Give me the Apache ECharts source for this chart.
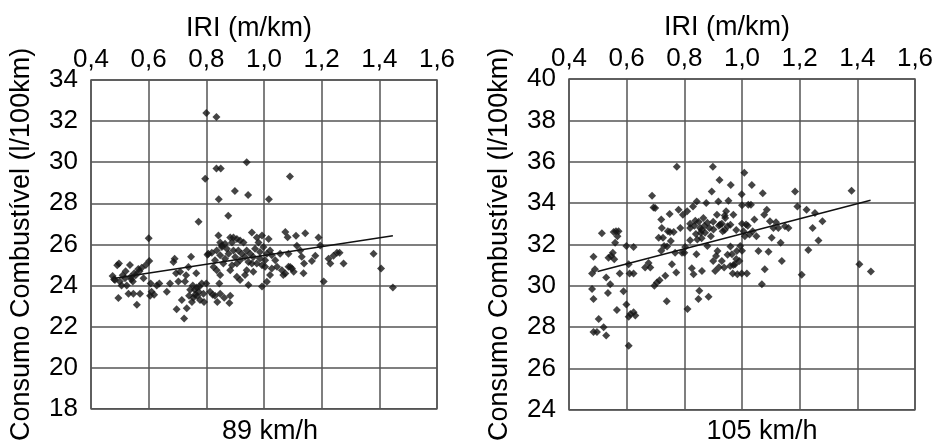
<!DOCTYPE html>
<html>
<head>
<meta charset="utf-8">
<script src="https://cdn.jsdelivr.net/npm/echarts@6/dist/echarts.min.js"></script>
<style>
	html, body { margin: 0; padding: 0; background: #fff; }
	#chart { width: 947px; height: 443px; }
</style>
</head>
<body>
<div id="chart"></div>
<script>
// eixo X (IRI) e eixos Y
var iriTicks = [0.4, 0.6, 0.8, 1.0, 1.2, 1.4, 1.6];
var yRange89 = [18, 34];
var yRange105 = [24, 40];

// 89 km/h: pontos [IRI, consumo]
var pts89 = [
	[0.80,32.4],[0.835,32.2],[0.94,30.0],[0.835,29.7],[0.85,29.7],[0.796,29.2],[1.09,29.3],[0.899,28.6],
	[0.945,28.4],[0.843,28.2],[1.017,28.2],[0.876,27.4],[0.773,27.1],[0.6,26.3],
	[0.475,24.46],[0.483,24.27],[0.491,24.99],[0.497,25.07],[0.495,23.39],[0.48,24.3],[0.51,24.5],[0.518,24.35],
	[0.524,24.0],[0.53,23.6],[0.535,25.0],[0.538,24.43],[0.545,24.2],[0.55,24.6],[0.559,23.07],[0.564,24.8],
	[0.57,23.6],[0.576,24.86],[0.582,24.35],[0.59,25.0],[0.602,25.2],[0.607,24.1],[0.605,23.5],[0.61,23.7],
	[0.619,23.55],[0.628,24.0],[0.637,24.1],[0.547,23.6],[0.506,24.0],[0.5,24.2],[0.52,24.7],[0.54,24.3],
	[0.555,24.5],[0.568,24.7],
	[0.663,23.7],[0.674,24.1],[0.686,25.15],[0.69,25.3],[0.695,24.6],[0.697,22.85],[0.703,24.2],[0.709,24.67],
	[0.715,23.3],[0.723,22.4],[0.726,24.2],[0.732,22.9],[0.738,24.9],[0.744,23.8],[0.747,25.4],[0.753,24.0],
	[0.755,23.4],[0.761,23.55],[0.765,24.6],[0.767,23.9],[0.769,23.5],[0.773,23.7],[0.776,23.95],[0.778,23.3],
	[0.784,24.1],[0.79,23.6],[0.792,23.2],[0.8,24.1],[0.804,25.5],[0.813,23.7],[0.819,25.6],[0.822,23.55],
	[0.83,23.5],[0.836,24.75],[0.838,23.2],[0.845,24.1],[0.848,23.6],[0.854,25.95],[0.862,23.4],[0.88,23.15],
	[0.883,23.5],[0.74,23.5],[0.75,23.2],[0.76,23.8],[0.73,24.5],
	[0.842,26.43],[0.848,26.1],[0.854,25.87],[0.836,25.7],[0.83,25.23],[0.825,24.9],[0.807,25.55],[0.883,26.34],
	[0.889,26.1],[0.894,26.34],[0.906,26.26],[0.917,26.19],[0.929,26.1],[0.871,25.79],[0.877,25.55],[0.865,25.3],
	[0.859,25.07],[0.894,25.71],[0.9,25.39],[0.911,25.71],[0.923,25.55],[0.906,25.07],[0.889,24.99],[0.883,24.75],
	[0.917,25.23],[0.934,25.39],[0.94,25.71],[0.952,25.55],[0.946,25.15],[0.963,25.39],[0.958,26.58],[0.993,26.43],
	[0.969,25.79],[0.981,26.1],[0.986,25.63],[0.998,25.87],[1.016,26.26],[1.01,25.55],[1.021,25.71],[1.027,25.47],
	[0.975,25.07],[0.993,24.99],[1.004,25.23],[1.027,24.83],[1.039,25.23],[1.056,25.55],[1.062,24.75],[1.074,24.59],
	[1.085,24.91],[1.097,24.83],[0.906,24.43],[0.917,24.27],[0.946,24.03],[0.993,23.95],[1.01,24.19],[1.021,24.51],
	[0.963,24.67],[0.94,24.75],[1.045,24.91],[1.067,24.51],[0.934,24.51],[0.848,24.51],[0.958,25.07],[0.986,25.31],
	[1.004,24.91],[0.848,25.47],[0.865,26.03],[0.975,26.34],
	[1.074,26.6],[1.082,26.35],[1.085,25.55],[1.091,24.9],[1.103,24.67],[1.111,26.42],[1.114,25.94],[1.126,25.7],
	[1.131,25.4],[1.137,24.6],[1.139,25.07],[1.143,26.55],[1.166,25.2],[1.178,25.45],[1.189,26.34],[1.195,25.95],
	[1.207,24.2],[1.224,25.3],[1.23,25.07],[1.241,25.45],[1.253,25.6],[1.262,25.6],[1.276,25.07],[1.38,25.55],
	[1.406,24.83],[1.447,23.9]
];
var trend89 = [[0.483, 24.35], [1.447, 26.42]];

// 105 km/h
var pts105 = [
	[0.485,27.76],[0.497,27.76],[0.503,28.4],[0.52,28.0],[0.529,27.6],[0.607,27.1],[0.48,29.84],[0.485,29.36],
	[0.535,29.65],[0.566,28.83],[0.589,29.73],[0.599,29.1],[0.607,28.5],[0.613,28.64],[0.624,28.72],[0.63,28.56],
	[0.48,30.6],[0.49,30.8],[0.485,31.4],[0.514,32.54],[0.529,30.4],[0.537,31.36],[0.543,30.08],[0.546,31.44],
	[0.552,31.6],[0.557,31.28],[0.56,32.08],[0.555,32.6],[0.563,32.64],[0.568,32.4],[0.572,32.64],[0.576,30.6],
	[0.599,31.92],[0.607,31.04],[0.61,30.6],[0.624,31.87],[0.624,30.6],[0.664,30.88],[0.676,31.1],[0.682,30.88],
	[0.688,34.35],[0.693,33.79],[0.699,33.76],[0.696,30.0],[0.705,30.16],[0.711,32.32],[0.714,30.27],[0.72,33.2],
	[0.722,32.8],[0.726,32.32],[0.73,31.92],[0.734,30.48],[0.739,29.25],[0.743,32.64],[0.749,33.47],[0.753,32.16],
	[0.757,31.04],[0.763,32.6],[0.768,31.6],[0.774,35.76],[0.772,30.64],[0.78,33.68],[0.786,32.8],[0.792,31.6],
	[0.795,33.44],[0.8,31.6],[0.803,31.87],[0.811,28.88],[0.82,32.8],[0.826,30.85],[0.83,33.84],[0.832,30.56],
	[0.838,33.15],[0.842,31.52],[0.843,34.08],[0.845,32.24],[0.849,29.36],[0.852,29.76],[0.855,32.8],[0.857,32.56],
	[0.861,30.72],[0.866,33.28],[0.872,32.56],[0.876,34.0],[0.88,31.92],[0.884,29.47],[0.887,32.8],[0.892,32.4],
	[0.895,34.56],[0.899,35.76],[0.901,32.72],[0.907,30.72],[0.91,31.44],[0.913,33.44],[0.915,31.68],[0.918,34.08],
	[0.922,35.12],[0.924,32.96],[0.93,31.2],[0.933,32.64],[0.938,30.88],[0.942,33.28],[0.945,33.6],[0.95,32.88],
	[0.953,34.11],[0.959,30.96],[0.961,34.88],[0.965,31.52],[0.968,30.59],[0.97,33.44],[0.976,31.04],[0.982,31.68],
	[0.984,30.56],[0.991,31.2],[0.994,31.92],[0.999,34.43],[0.999,30.59],[1.005,32.64],[1.008,35.47],[1.014,32.96],
	[1.017,30.59],[1.022,33.92],[1.026,32.48],[1.031,33.92],[1.034,34.88],[1.037,32.64],[1.043,33.2],[1.057,31.68],
	[1.069,30.08],[1.072,34.48],[1.077,33.44],[1.079,30.8],[1.086,33.68],[1.092,31.65],[1.097,33.12],[1.103,32.32],
	[1.109,32.8],[1.118,33.07],[1.126,32.8],[1.134,32.08],[1.138,31.2],[1.149,32.88],[1.161,32.8],[1.184,34.56],
	[1.192,33.84],[1.207,30.53],[1.224,33.68],[1.23,31.73],[1.245,32.8],[1.253,33.52],[1.265,32.19],[1.279,33.12],
	[1.38,34.59],[1.407,31.04],[1.447,30.69],
	[0.82,33.0],[0.835,32.9],[0.85,33.1],[0.86,32.7],[0.87,32.9],[0.88,33.05],[0.9,33.1],[0.92,32.9],
	[0.93,33.0],[0.94,32.7],[0.96,32.95],[0.98,32.7],[1.0,33.0],[1.01,32.4],[0.84,32.5],[0.86,32.3],
	[0.82,32.2],[0.81,33.6],[0.94,33.4],[0.96,31.9],[0.98,31.3],[1.0,31.7],[0.9,31.2],[0.92,30.9],
	[0.95,31.5],[0.97,31.0],[1.0,33.9],[1.05,32.4],[1.02,32.9],[0.75,32.6],[0.72,31.7],[0.74,31.9]
];
var trend105 = [[0.499, 30.69], [1.446, 34.14]];

var fontName = "Liberation Sans";
var lineCol = "#555";

function xAxisDef(idx) {
	return {
		gridIndex: idx,
		type: 'value',
		position: 'top',
		min: iriTicks[0],
		max: iriTicks[iriTicks.length - 1],
		interval: 0.2,
		name: 'IRI (m/km)',
		nameLocation: 'middle',
		nameGap: 34,
		nameTextStyle: { color: '#000', fontSize: 27, fontFamily: fontName, padding: [0, 30, 0, 0] },
		axisLine: { show: false },
		axisTick: { show: false },
		axisLabel: {
			color: '#000', fontSize: 26, fontFamily: fontName, margin: 7,
			formatter: function(v) { return v.toFixed(1).replace('.', ','); }
		},
		splitLine: { show: true, lineStyle: { color: lineCol, width: 1.5 } }
	};
}

function yAxisDef(idx, rng) {
	return {
		gridIndex: idx,
		type: 'value',
		min: rng[0],
		max: rng[1],
		interval: 2,
		name: 'Consumo Combustível (l/100km)',
		nameLocation: 'middle',
		nameGap: 56,
		nameTextStyle: { color: '#000', fontSize: 27, fontFamily: fontName },
		axisLine: { show: false },
		axisTick: { show: false },
		axisLabel: { color: '#000', fontSize: 26, fontFamily: fontName, margin: 13, padding: [4, 0, 0, 0] },
		splitLine: { show: true, lineStyle: { color: lineCol, width: 1.5 } }
	};
}

var chart = echarts.init(document.getElementById('chart'));
chart.setOption({
	backgroundColor: '#fff',
	animation: false,
	title: [
		{ text: '89 km/h', left: 265, top: 413, textAlign: 'center',
			textStyle: { color: '#000', fontSize: 27, fontWeight: 'normal', fontFamily: fontName } },
		{ text: '105 km/h', left: 757, top: 413, textAlign: 'center',
			textStyle: { color: '#000', fontSize: 27, fontWeight: 'normal', fontFamily: fontName } }
	],
	grid: [
		{ left: 91, top: 80, width: 346, height: 334, show: true, borderColor: lineCol, borderWidth: 1.5 },
		{ left: 569, top: 79, width: 346, height: 334, show: true, borderColor: lineCol, borderWidth: 1.5 }
	],
	xAxis: [xAxisDef(0), xAxisDef(1)],
	yAxis: [yAxisDef(0, yRange89), yAxisDef(1, yRange105)],
	series: [
		{ type: 'scatter', xAxisIndex: 0, yAxisIndex: 0, data: pts89, symbol: 'diamond', symbolSize: 8,
			itemStyle: { color: '#151515' } },
		{ type: 'line', xAxisIndex: 0, yAxisIndex: 0, data: trend89, symbol: 'none',
			lineStyle: { color: '#111', width: 1.5 } },
		{ type: 'scatter', xAxisIndex: 1, yAxisIndex: 1, data: pts105, symbol: 'diamond', symbolSize: 8,
			itemStyle: { color: '#151515' } },
		{ type: 'line', xAxisIndex: 1, yAxisIndex: 1, data: trend105, symbol: 'none',
			lineStyle: { color: '#111', width: 1.5 } }
	]
});
</script>
</body>
</html>
